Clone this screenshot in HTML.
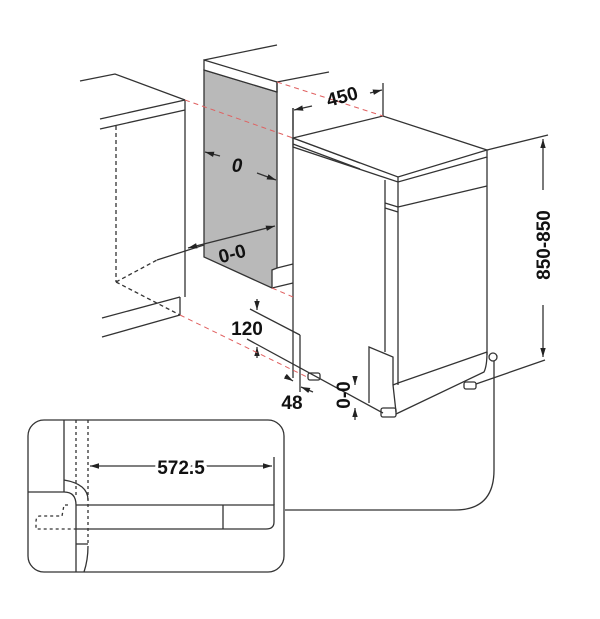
<!DOCTYPE html>
<html><head><style>html,body{margin:0;padding:0;background:#fff}svg{display:block}</style></head>
<body>
<svg width="600" height="619" viewBox="0 0 600 619" xmlns="http://www.w3.org/2000/svg" font-family="Liberation Sans, sans-serif">
<defs>
<marker id="a" viewBox="0 0 10 10" refX="10" refY="5" markerWidth="7" markerHeight="7" orient="auto-start-reverse"><path d="M0,2 L10,5 L0,8z" fill="#222"/></marker>
</defs>
<g stroke="#333" stroke-width="1.3" fill="none">
<polyline points="80,81 115,74 185,100"/>
<line x1="100" y1="119" x2="185" y2="100"/>
<line x1="100" y1="129" x2="185" y2="110"/>
<line x1="185" y1="100" x2="185" y2="297"/>
<line x1="180" y1="297" x2="180" y2="315"/>
<line x1="102" y1="318" x2="180" y2="297"/>
<line x1="102" y1="337" x2="180" y2="315"/>
<line x1="157" y1="260" x2="204" y2="245"/>
<g stroke-dasharray="4,3"><line x1="116" y1="126" x2="116" y2="282"/><line x1="116" y1="282" x2="157" y2="260"/><line x1="116" y1="282" x2="180" y2="315"/></g>
<polygon points="204,70 277,92 277,268 272,270 272,288 204,257" fill="#b9b9b9" stroke="#333"/>
<polygon points="204,60 277,82 277,92 204,70" fill="#fff"/>
<line x1="204" y1="60" x2="277" y2="45"/>
<line x1="277" y1="82" x2="329" y2="72"/>
<line x1="277" y1="82" x2="277" y2="92"/>
<polyline points="277,268 293,264"/>
<polyline points="272,288 293,283"/>
<line x1="293" y1="108" x2="293" y2="378"/>
<line x1="293" y1="138" x2="360" y2="163"/>
<line x1="293" y1="144" x2="360" y2="169"/>
<polygon points="293,138 383,116 487,150 398,177" fill="#fff"/>
<polyline points="293,138 293,147 398,182 487,157 487,150"/>
<line x1="398" y1="177" x2="398" y2="385"/>
<line x1="385" y1="180" x2="385" y2="352"/>
<line x1="385" y1="203" x2="398" y2="207"/>
<line x1="398" y1="207" x2="487" y2="186"/>
<line x1="385" y1="208" x2="398" y2="212"/>
<line x1="487" y1="157" x2="487" y2="355"/>
<polyline points="393,385 398,383 487,352"/>
<line x1="300" y1="335" x2="300" y2="392"/>
<line x1="247" y1="339" x2="383" y2="413"/>
<path d="M396,414 L484,372 Q487,366 487,352"/>
<polyline points="369,403 369,347 393,357 393,385 396,412"/>
<rect x="381" y="408" width="15" height="9" rx="2"/>
<rect x="308" y="373" width="12" height="7" rx="2"/>
<rect x="464" y="382" width="12" height="7" rx="2"/>
<line x1="293" y1="108" x2="293" y2="130"/>
<line x1="383" y1="83" x2="383" y2="116"/>
<line x1="312" y1="106" x2="294" y2="110" marker-end="url(#a)"/>
<line x1="370" y1="93" x2="382" y2="90" marker-end="url(#a)"/>
<line x1="487" y1="150" x2="548" y2="135"/>
<line x1="476" y1="384" x2="545" y2="360"/>
<line x1="543" y1="190" x2="543" y2="139" marker-end="url(#a)"/>
<line x1="543" y1="305" x2="543" y2="357" marker-end="url(#a)"/>
<line x1="250" y1="309" x2="300" y2="335"/>
<line x1="257" y1="299" x2="257" y2="310" marker-end="url(#a)"/>
<line x1="257" y1="358" x2="257" y2="347" marker-end="url(#a)"/>
<line x1="285" y1="376" x2="293" y2="381" marker-end="url(#a)"/>
<line x1="313" y1="392" x2="301" y2="387" marker-end="url(#a)"/>
<line x1="355" y1="378" x2="355" y2="385" marker-end="url(#a)"/>
<line x1="355" y1="420" x2="355" y2="408" marker-end="url(#a)"/>
<line x1="220" y1="156" x2="205" y2="152" marker-end="url(#a)"/>
<line x1="257" y1="173" x2="276" y2="180" marker-end="url(#a)"/>
<line x1="188" y1="248" x2="275" y2="226" marker-end="url(#a)" marker-start="url(#a)"/>
<g stroke="#e06060" stroke-dasharray="5,4" stroke-width="1">
<line x1="185" y1="100" x2="293" y2="138"/>
<line x1="277" y1="82" x2="383" y2="116"/>
<line x1="180" y1="315" x2="307" y2="377"/>
<line x1="272" y1="288" x2="293" y2="297"/>
</g>
<circle cx="493" cy="357" r="4" fill="#fff"/>
<path d="M494,361 V470 Q494,510 455,510 H285"/>
<rect x="28" y="420" width="256" height="152" rx="16"/>
<line x1="64" y1="420" x2="64" y2="492"/>
<path d="M28,492 H64 Q76,492 76,505 V572"/>
<path d="M64,480 Q88,484 88,500"/>
<g stroke-dasharray="3,3"><line x1="76" y1="420" x2="76" y2="495"/><line x1="88" y1="420" x2="88" y2="546"/><path d="M68,505 H64 L62,516 H40 Q36,516 36,522 V529 H76"/></g>
<path d="M76,505 H274 V522 Q274,529 266,529 H76"/>
<line x1="223" y1="505" x2="223" y2="529"/>
<line x1="76" y1="544" x2="88" y2="544"/>
<path d="M88,546 Q88,560 84,572"/>
<line x1="274" y1="457" x2="274" y2="505"/>
<line x1="90" y1="466" x2="272" y2="466" marker-end="url(#a)" marker-start="url(#a)"/>
</g>
<g font-weight="bold" fill="#111" font-size="19" text-anchor="middle">
<text x="342" y="103" transform="rotate(-15 342 96)">450</text>
<text x="237" y="172" font-style="italic">0</text>
<text x="232" y="260" transform="rotate(-15 232 253)">0-0</text>
<text x="247" y="335">120</text>
<text x="292" y="409">48</text>
<text x="343" y="402" transform="rotate(-90 343 395)">0-0</text>
<text x="543" y="252" transform="rotate(-90 543 245)">850-850</text>
<text x="181" y="474" fill="#fff" stroke="#fff" stroke-width="6">572.5</text>
<text x="181" y="474">572.5</text>
</g>
</svg>
</body></html>
